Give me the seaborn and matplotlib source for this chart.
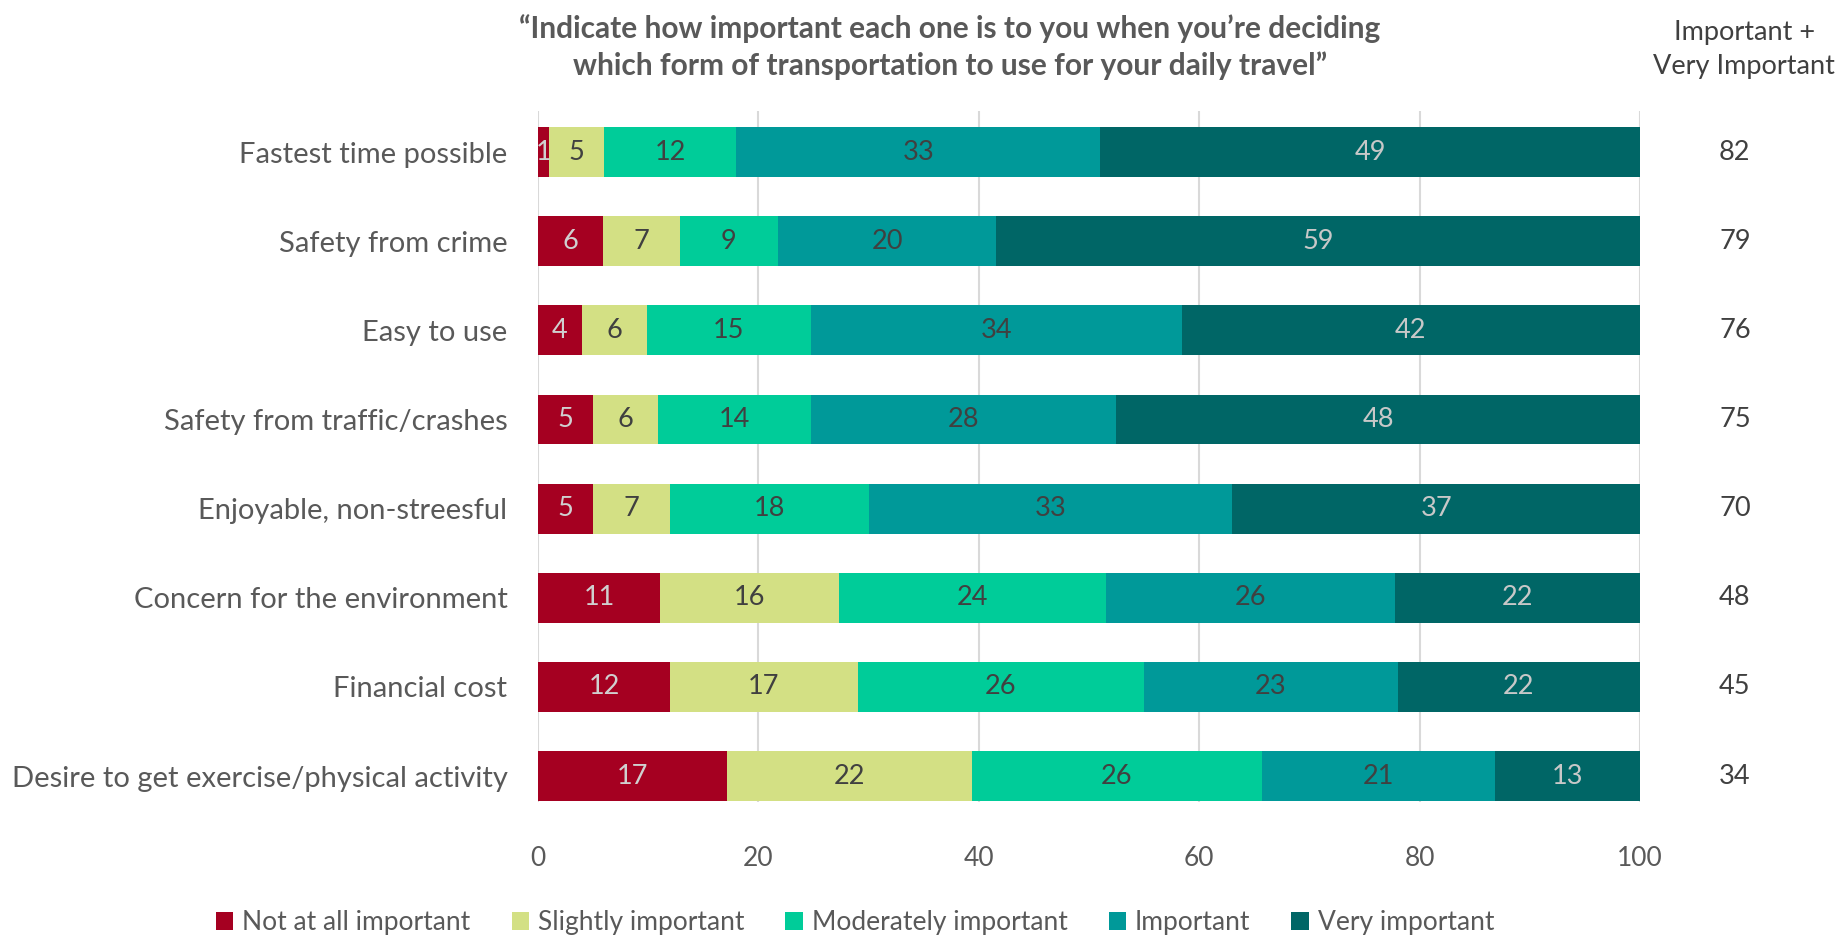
import matplotlib
matplotlib.use("Agg")
import matplotlib.pyplot as plt
import seaborn as sns
import pandas as pd
import numpy as np
from matplotlib.patches import Patch

categories = [
    "Fastest time possible",
    "Safety from crime",
    "Easy to use",
    "Safety from traffic/crashes",
    "Enjoyable, non-streesful",
    "Concern for the environment",
    "Financial cost",
    "Desire to get exercise/physical activity",
]
levels = ["Not at all important", "Slightly important", "Moderately important",
          "Important", "Very important"]
not_at_all = [1, 6, 4, 5, 5, 11, 12, 17]
slightly = [5, 7, 6, 6, 7, 16, 17, 22]
moderately = [12, 9, 15, 14, 18, 24, 26, 26]
important = [33, 20, 34, 28, 33, 26, 23, 21]
very_important = [49, 59, 42, 48, 37, 22, 22, 13]
top_two = [82, 79, 76, 75, 70, 48, 45, 34]

colors = ["#A50021", "#D3E084", "#00CC99", "#009999", "#006666"]
label_colors = ["#D0D0D0", "#404040", "#404040", "#404040", "#C8C8C8"]

sns.set_theme(style="white")
plt.rcParams["font.family"] = ["Lato", "DejaVu Sans"]
text_gray = "#595959"

df = pd.DataFrame(
    {"category": categories,
     levels[0]: not_at_all, levels[1]: slightly, levels[2]: moderately,
     levels[3]: important, levels[4]: very_important}
)
raw = df[levels].to_numpy(dtype=float)
share = raw / raw.sum(axis=1, keepdims=True) * 100
cum = np.cumsum(share, axis=1)

fig = plt.figure(figsize=(18.43, 9.36), dpi=100)
ax = fig.add_axes([0.2919, 0.1432, 0.598, 0.7382])

# stacked bars: draw cumulative totals from the longest down
for j in range(len(levels) - 1, -1, -1):
    sns.barplot(x=cum[:, j], y=df["category"], orient="h", color=colors[j],
                width=0.56, saturation=1, ax=ax, edgecolor="none", linewidth=0)

for i in range(len(categories)):
    for j in range(len(levels)):
        left = cum[i, j] - share[i, j]
        ax.text(left + share[i, j] / 2, i, f"{int(raw[i, j])}",
                ha="center", va="center", fontsize=19.5, color=label_colors[j])
    ax.text(1.086, i, f"{top_two[i]}", transform=ax.get_yaxis_transform(),
            ha="center", va="center", fontsize=19.5, color="#404040")

ax.set_xlim(0, 100)
ax.set_ylim(7.29, -0.46)
ax.set_xticks([0, 20, 40, 60, 80, 100])
ax.xaxis.grid(True, color="#D9D9D9", linewidth=1.5)
ax.set_axisbelow(True)
for s in ax.spines.values():
    s.set_visible(False)
ax.set_xlabel("")
ax.set_ylabel("")
ax.tick_params(axis="x", length=0, pad=32, labelsize=19, labelcolor=text_gray)
ax.tick_params(axis="y", length=0, pad=22, labelsize=21, labelcolor=text_gray)

fig.text(0.5155, 0.950,
         "\u201cIndicate how important each one is to you when you\u2019re deciding\n"
         "which form of transportation to use for your daily travel\u201d",
         ha="center", va="center", fontsize=21.5, fontweight="bold",
         color=text_gray, linespacing=1.36)
fig.text(0.9465, 0.9475, "Important +\nVery Important", ha="center", va="center",
         fontsize=19.5, color="#404040", linespacing=1.45)

handles = [Patch(facecolor=c, edgecolor="none") for c in colors]
fig.legend(handles, levels, loc="center", bbox_to_anchor=(0.464, 0.014),
           ncol=5, frameon=False, fontsize=19, handlelength=0.65,
           handleheight=0.65, columnspacing=1.55, handletextpad=0.35,
           labelcolor=text_gray)

fig.savefig("out.png", dpi=100)
